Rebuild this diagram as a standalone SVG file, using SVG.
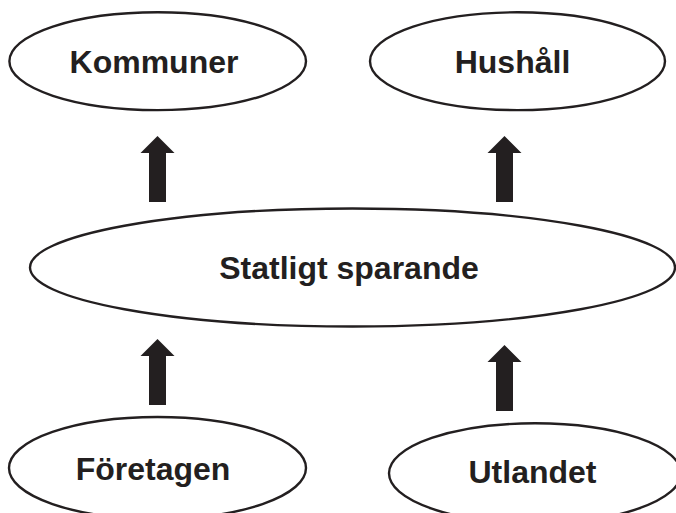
<svg xmlns="http://www.w3.org/2000/svg" width="676" height="513" viewBox="0 0 676 513">
<defs>
<style>
.node ellipse{fill:#ffffff;stroke:#231f20;stroke-width:2.4}
.node text{font-family:"Liberation Sans",Arial,sans-serif;font-weight:bold;font-size:32px;fill:#231f20;text-anchor:middle}
.arrow{fill:#231f20}
</style>
<path id="arr" d="M0,0 L17,17 L8.5,17 L8.5,66 L-8.5,66 L-8.5,17 L-17,17 Z"/>
</defs>
<rect width="676" height="513" fill="#ffffff"/>
<g id="connectors">
<path class="arrow" d="M157.5,136 L174.5,153 L166,153 L166,202 L149,202 L149,153 L140.5,153 Z"/>
<path class="arrow" d="M504.5,136 L521.5,153 L513,153 L513,202 L496,202 L496,153 L487.5,153 Z"/>
<path class="arrow" d="M157.5,339 L174.5,356 L166,356 L166,405 L149,405 L149,356 L140.5,356 Z"/>
<path class="arrow" d="M504.5,345 L521.5,362 L513,362 L513,411 L496,411 L496,362 L487.5,362 Z"/>
</g>
<g id="kommuner" class="node">
<ellipse cx="157.7" cy="61.2" rx="148.3" ry="48.9"/>
<text x="154" y="72.7">Kommuner</text>
</g>
<g id="hushall" class="node">
<ellipse cx="517.5" cy="61.2" rx="147.5" ry="48.9"/>
<text x="512.5" y="72.7">Hushåll</text>
</g>
<g id="statligt" class="node">
<ellipse cx="352.5" cy="267.5" rx="322.5" ry="59"/>
<text x="349" y="279">Statligt sparande</text>
</g>
<g id="foretagen" class="node">
<ellipse cx="157.5" cy="468" rx="148.5" ry="51"/>
<text x="153" y="480">Företagen</text>
</g>
<g id="utlandet" class="node">
<ellipse cx="535" cy="473.3" rx="146" ry="50"/>
<text x="532.5" y="483">Utlandet</text>
</g>
</svg>
